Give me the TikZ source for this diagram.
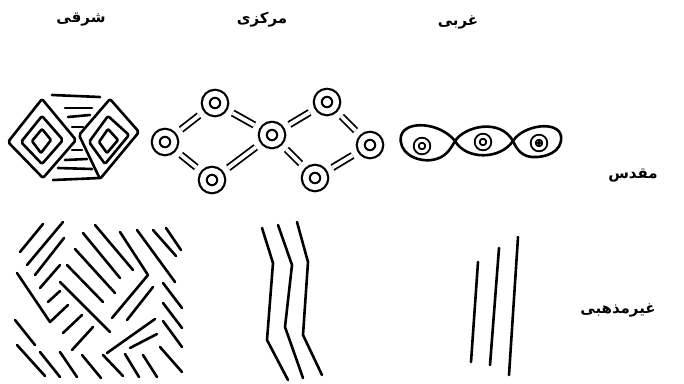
\documentclass[tikz,border=0pt]{standalone}
\usepackage{fontspec}
\newfontfamily\farsi[Script=Arabic]{DejaVu Sans}
\TeXXeTstate=1

\begin{document}
\begin{tikzpicture}[x=1pt,y=-1pt,
  ink/.style={line width=2.6pt, line cap=round, line join=round},
  heading/.style={font=\farsi\bfseries\fontsize{15}{18}\selectfont, inner sep=0pt},
  ring/.style={circle, draw, double, line width=2.2pt, double distance=5.6pt, minimum size=18.5pt, inner sep=0pt},
  eyering/.style={circle, draw, double, line width=1.9pt, double distance=3pt, minimum size=11.5pt, inner sep=0pt},
  link/.style={double, line width=1.8pt, double distance=3.8pt, shorten <=10pt, shorten >=10pt}]
  \fill[white] (0,0) rectangle (684,383);
  \useasboundingbox (0,0) rectangle (684,383);

  % column and row titles
  \node[heading] (east) at (81,20) {\beginR شرقی\endR};
  \node[heading] (centre) at (262,20) {\beginR مرکزی\endR};
  \node[heading] (west) at (458,22) {\beginR غربی\endR};
  \node[heading] (sacred) at (633,176) {\beginR مقدس\endR};
  \node[heading] (secular) at (618,310) {\beginR غیرمذهبی\endR};

  % east, sacred: two nested diamonds with bars between
  \draw[ink, rounded corners=2pt] (8,142) -- (42,99) -- (76,140) -- (43,178) -- cycle;
  \draw[ink, rounded corners=2pt] (21,142) -- (42,116) -- (63,140) -- (42,164) -- cycle;
  \draw[ink, rounded corners=1pt] (32,141) -- (42,129) -- (51,140) -- (41,153) -- cycle;
  \draw[ink, rounded corners=2pt] (79,135) -- (110,99) -- (139,132) -- (100,179) -- cycle;
  \draw[ink, rounded corners=2pt] (89,142) -- (108,116) -- (129,135) -- (105,164) -- cycle;
  \draw[ink, rounded corners=1pt] (99,142) -- (108,129) -- (118,140) -- (107,153) -- cycle;
  \foreach \xa/\ya/\xb/\yb in {52/95/100/97, 65/108/92/108, 68/117/90/115, 72/127/83/127,
    72/150/82/150, 65/160/87/159, 58/168/92/169, 53/180/100/178}
    \draw[ink] (\xa,\ya) -- (\xb,\yb);

  % centre, sacred: rings joined by double strokes
  \node[ring] (c1) at (165,142) {};
  \node[ring] (c2) at (215,103) {};
  \node[ring] (c3) at (212,180) {};
  \node[ring] (c4) at (272,135) {};
  \node[ring] (c5) at (327,102) {};
  \node[ring] (c6) at (370,145) {};
  \node[ring] (c7) at (315,178) {};
  \foreach \a/\b in {c1/c2, c1/c3, c2/c4, c3/c4, c4/c5, c4/c7, c5/c6, c6/c7}
    \draw[link] (\a) -- (\b);

  % west, sacred: three eyes in a row
  \draw[ink] (455,141) .. controls (440,122) and (405,120) .. (401,136)
    .. controls (398,152) and (415,162) .. (432,160) .. controls (445,158) and (450,150) .. (455,141);
  \draw[ink] (455,141) .. controls (465,126) and (500,118) .. (513,141)
    .. controls (500,160) and (466,160) .. (455,141);
  \draw[ink] (513,141) .. controls (523,125) and (558,120) .. (561,136)
    .. controls (563,152) and (545,158) .. (532,157) .. controls (522,156) and (517,150) .. (513,141);
  \node[eyering] (e1) at (422,146) {};
  \node[eyering] (e2) at (483,142) {};
  \node[eyering] (e3) at (539,143) {};
  \fill (e3.center) circle (2pt);

  % east, secular: blocks of hatching
  \foreach \xa/\ya/\xb/\yb in {20/252/43/224, 27/265/63/222, 35/275/64/238, 40/288/60/265,
    48/302/60/291, 63/333/82/315, 72/350/93/327, 15/320/35/345,
    83/233/120/278, 95/225/133/270, 75/249/115/293, 67/265/103/302, 60/282/110/332,
    137/230/175/282, 153/230/176/256, 166/228/181/250, 127/320/153/287,
    163/283/182/308, 163/303/182/328, 163/321/182/347, 160/347/182/372,
    107/353/155/319, 130/348/157/334,
    17/345/45/376, 40/352/60/377, 60/352/77/377, 82/355/101/378,
    103/355/123/376, 125/354/139/377, 143/355/157/377}
    \draw[ink] (\xa,\ya) -- (\xb,\yb);
  \draw[ink] (17,273) -- (50,322) -- (68,305);
  \draw[ink] (120,232) -- (148,275) -- (112,318);

  % centre, secular: three bent lines
  \draw[ink] (262,228) -- (273,263) -- (267,340) -- (288,380);
  \draw[ink] (278,225) -- (292,265) -- (285,327) -- (303,378);
  \draw[ink] (297,222) -- (308,262) -- (303,335) -- (322,375);

  % west, secular: three straight lines
  \draw[ink] (478,262) -- (471,362);
  \draw[ink] (499,248) -- (490,365);
  \draw[ink] (518,237) -- (509,375);
\end{tikzpicture}
\end{document}
